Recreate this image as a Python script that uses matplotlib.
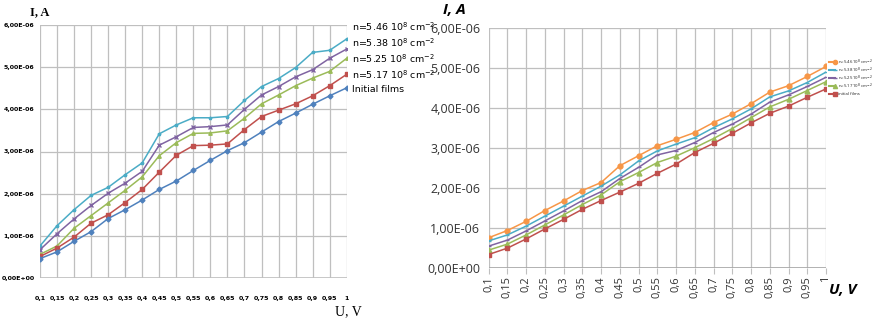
import numpy as np
import matplotlib
matplotlib.use("Agg")
import matplotlib.pyplot as plt
from matplotlib.ticker import FuncFormatter

u = [0.1, 0.15, 0.2, 0.25, 0.3, 0.35, 0.4, 0.45, 0.5, 0.55,
     0.6, 0.65, 0.7, 0.75, 0.8, 0.85, 0.9, 0.95, 1]
u_labels = ["0,1", "0,15", "0,2", "0,25", "0,3", "0,35", "0,4", "0,45", "0,5", "0,55",
            "0,6", "0,65", "0,7", "0,75", "0,8", "0,85", "0,9", "0,95", "1"]

labels = [r"n=5.46 10$^8$ cm$^{-2}$", r"n=5.38 10$^8$ cm$^{-2}$",
          r"n=5.25 10$^8$ cm$^{-2}$", r"n=5.17 10$^8$ cm$^{-2}$", "Initial films"]
labels_right = labels[:4] + ["initial films"]

# left chart, units of 1e-6 A
left_546 = [0.76, 1.24, 1.62, 1.96, 2.15, 2.45, 2.73, 3.42, 3.63, 3.80,
            3.80, 3.83, 4.21, 4.54, 4.73, 4.99, 5.35, 5.40, 5.67]
left_538 = [0.67, 1.05, 1.40, 1.72, 2.01, 2.25, 2.53, 3.15, 3.35, 3.57,
            3.59, 3.63, 4.00, 4.34, 4.54, 4.77, 4.94, 5.21, 5.43]
left_525 = [0.56, 0.76, 1.18, 1.48, 1.78, 2.08, 2.40, 2.90, 3.21, 3.43,
            3.44, 3.49, 3.79, 4.13, 4.34, 4.56, 4.74, 4.90, 5.21]
left_517 = [0.51, 0.71, 0.97, 1.30, 1.50, 1.79, 2.10, 2.51, 2.91, 3.14,
            3.15, 3.18, 3.52, 3.83, 3.98, 4.13, 4.32, 4.56, 4.83]
left_init = [0.46, 0.62, 0.87, 1.10, 1.41, 1.62, 1.85, 2.10, 2.30, 2.55,
             2.79, 3.02, 3.21, 3.46, 3.71, 3.91, 4.12, 4.32, 4.51]

# right chart, units of 1e-6 A
right_546 = [0.75, 0.93, 1.16, 1.43, 1.67, 1.93, 2.13, 2.55, 2.80, 3.05,
             3.21, 3.38, 3.63, 3.84, 4.10, 4.39, 4.55, 4.78, 5.03]
right_538 = [0.67, 0.82, 1.04, 1.29, 1.54, 1.79, 2.04, 2.32, 2.67, 2.92,
             3.09, 3.25, 3.50, 3.72, 3.97, 4.27, 4.42, 4.63, 4.89]
right_525 = [0.54, 0.69, 0.92, 1.17, 1.42, 1.68, 1.90, 2.23, 2.51, 2.82,
             2.93, 3.13, 3.38, 3.59, 3.84, 4.14, 4.32, 4.53, 4.76]
right_517 = [0.44, 0.59, 0.82, 1.07, 1.32, 1.58, 1.82, 2.15, 2.38, 2.63,
             2.79, 3.00, 3.23, 3.48, 3.75, 4.02, 4.21, 4.43, 4.65]
right_init = [0.33, 0.49, 0.72, 0.97, 1.21, 1.46, 1.68, 1.89, 2.11, 2.36,
              2.59, 2.88, 3.11, 3.36, 3.62, 3.86, 4.04, 4.26, 4.47]

left_series = [left_546, left_538, left_525, left_517, left_init]
right_series = [right_546, right_538, right_525, right_517, right_init]

left_colors = ["#4BACC6", "#8064A2", "#9BBB59", "#C0504D", "#4F81BD"]
left_markers = ["*", "x", "^", "s", "D"]
right_colors = ["#F79646", "#4BACC6", "#8064A2", "#9BBB59", "#C0504D"]
right_markers = ["o", "_", "_", "^", "s"]

grid_c = "#BFBFBF"
narrow = ["Liberation Sans Narrow", "DejaVu Sans"]
W, H = 876, 324
fig = plt.figure(figsize=(W / 100, H / 100), dpi=100)


def box(x0, x1, ytop, ybot):
    return [x0 / W, 1 - ybot / H, (x1 - x0) / W, (ybot - ytop) / H]


def sci(v, pos):
    return ("%.2fE%s" % (v, "-06" if v != 0 else "+00")).replace(".", ",")


x = np.arange(len(u))

# ---- left chart
ax1 = fig.add_axes(box(40, 346.7, 25, 278))
for ys, c, m in zip(left_series, left_colors, left_markers):
    ax1.plot(x, ys, color=c, marker=m, markersize=2.5, linewidth=1.1)
ax1.set_xlim(0, len(u) - 1)
ax1.set_ylim(0, 6)
ax1.set_xticks(x)
ax1.set_xticklabels(u_labels, fontsize=4.6, fontweight="bold", family=narrow)
ax1.set_yticks(range(7))
ax1.yaxis.set_major_formatter(FuncFormatter(sci))
for t in ax1.get_yticklabels():
    t.set_fontsize(4.5)
    t.set_fontweight("bold")
    t.set_family(narrow)
ax1.tick_params(axis="x", length=0, pad=13)
ax1.tick_params(axis="y", length=0, pad=4)
ax1.grid(True, color=grid_c, linewidth=0.9)
for s in ax1.spines.values():
    s.set_visible(False)
ax1.axhline(0, color=grid_c, linewidth=1.2)
fig.text(30 / W, 1 - 12 / H, "I, A", family="Liberation Serif", fontweight="bold",
         fontsize=9, va="center")
fig.text(335 / W, 1 - 312 / H, "U, V", family="Liberation Serif",
         fontsize=10, va="center")
leg_y = [27, 43, 59, 75, 90]
for lab, yy in zip(labels, leg_y):
    fig.text(352 / W, 1 - yy / H, lab, family=narrow, fontsize=6.8, va="center")

# ---- right chart
ax2 = fig.add_axes(box(488.7, 826, 27.7, 267.7))
for ys, c, m in zip(right_series, right_colors, right_markers):
    ax2.plot(x, ys, color=c, marker=m, markersize=3.5 if m != "_" else 3,
             linewidth=1.1)
ax2.set_xlim(0, len(u) - 1)
ax2.set_ylim(0, 6)
ax2.set_xticks(x)
ax2.set_xticklabels(u_labels, fontsize=8, rotation=90,
                    family="Open Sans", color="#333333")
ax2.set_yticks(range(7))
ax2.yaxis.set_major_formatter(FuncFormatter(sci))
for t in ax2.get_yticklabels():
    t.set_fontsize(9)
    t.set_family("Open Sans")
    t.set_color("#333333")
ax2.tick_params(length=0, pad=6)
ax2.tick_params(axis="x", length=4, color=grid_c, pad=2)
ax2.grid(True, color=grid_c, linewidth=0.9)
for s in ax2.spines.values():
    s.set_visible(False)
ax2.axhline(0, color="#A6A6A6", linewidth=1.2)
fig.text(443 / W, 1 - 10 / H, "I, A", family="Open Sans", fontweight="bold",
         style="italic", fontsize=11, va="center")
fig.text(829 / W, 1 - 290 / H, "U, V", family="Open Sans", fontweight="bold",
         style="italic", fontsize=11, va="center")
rl_y = [62, 70, 78, 86, 94]
for lab, yy, c, m in zip(labels_right, rl_y, right_colors, right_markers):
    fig.text(838 / W, 1 - yy / H, lab, family="Open Sans", fontsize=3.1,
             va="center", color="#222222")
    fig.lines.append(plt.Line2D([829 / W, 835 / W], [1 - yy / H] * 2,
                                transform=fig.transFigure, color=c,
                                marker=m, markersize=3, markevery=[1]))

fig.savefig("out.png", dpi=100)
